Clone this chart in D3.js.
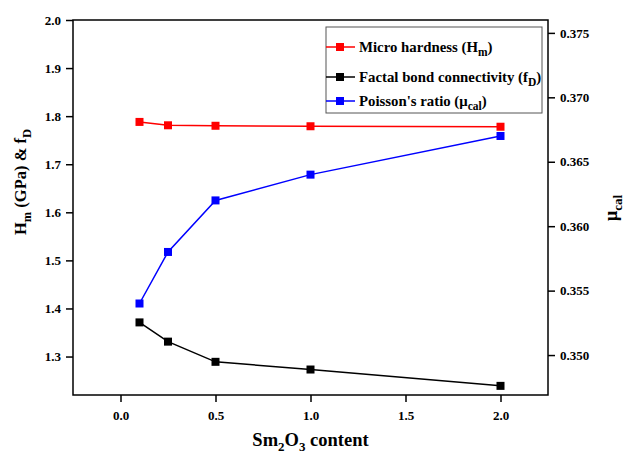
<!DOCTYPE html>
<html>
<head>
<meta charset="utf-8">
<script src="https://cdn.jsdelivr.net/npm/d3@7/dist/d3.min.js"></script>
<style>
  body { margin: 0; background: #fff; }
  svg text { font-family: 'Liberation Serif', 'Times New Roman', Times, serif; font-weight: bold; }
</style>
</head>
<body>
<div id="chart"></div>
<script>
// data
const content = [0.1, 0.25, 0.5, 1.0, 2.0];
const hardness = [1.788, 1.781, 1.780, 1.779, 1.778];
const fractal = [1.371, 1.331, 1.289, 1.273, 1.239];
const poisson = [0.354, 0.358, 0.362, 0.364, 0.367];

const xTicks = [0.0, 0.5, 1.0, 1.5, 2.0];
const leftTicks = [1.3, 1.4, 1.5, 1.6, 1.7, 1.8, 1.9, 2.0];
const rightTicks = [0.350, 0.355, 0.360, 0.365, 0.370, 0.375];

const width = 627;
const height = 455;
const m = { left: 73, right: 548, top: 20, bottom: 395 };

const svg = d3.select('#chart')
    .append('svg')
    .attr('width', width)
    .attr('height', height);

const x = d3.scaleLinear().domain([-0.25, 2.25]).range([m.left, m.right]);
const yL = d3.scaleLinear().domain([1.22, 2.0]).range([m.bottom, m.top]);
const yR = d3.scaleLinear().domain([0.3469, 0.376]).range([m.bottom, m.top]);

// axes
function styleAxis(g) {
    g.attr('font-family', null);
    g.selectAll('.domain').remove();
    g.selectAll('.tick line').attr('stroke', '#000').attr('stroke-width', 1.5);
    g.selectAll('.tick text')
        .attr('font-size', 13)
        .attr('fill', '#000');
}

svg.append('g')
    .attr('transform', `translate(0,${m.bottom})`)
    .call(d3.axisBottom(x).tickValues(xTicks).tickFormat(d3.format('.1f')).tickSize(7).tickPadding(9))
    .call(styleAxis);

svg.append('g')
    .attr('transform', `translate(${m.left},0)`)
    .call(d3.axisLeft(yL).tickValues(leftTicks).tickFormat(d3.format('.1f')).tickSize(7).tickPadding(5))
    .call(styleAxis);

svg.append('g')
    .attr('transform', `translate(${m.right},0)`)
    .call(d3.axisRight(yR).tickValues(rightTicks).tickFormat(d3.format('.3f')).tickSize(7).tickPadding(5))
    .call(styleAxis);

// frame
svg.append('rect')
    .attr('x', m.left).attr('y', m.top)
    .attr('width', m.right - m.left).attr('height', m.bottom - m.top)
    .attr('fill', 'none').attr('stroke', '#000').attr('stroke-width', 1.5);

// series
const series = [
    { name: 'hard', vals: hardness, y: yL, color: '#ff0000' },
    { name: 'fd', vals: fractal, y: yL, color: '#000000' },
    { name: 'mu', vals: poisson, y: yR, color: '#0000ff' }
];

series.forEach(s => {
    const pts = content.map((c, i) => [c, s.vals[i]]);
    svg.append('path')
        .datum(pts)
        .attr('fill', 'none')
        .attr('stroke', s.color)
        .attr('stroke-width', 1.5)
        .attr('d', d3.line().x(d => x(d[0])).y(d => s.y(d[1])));
    svg.selectAll('rect.m-' + s.name)
        .data(pts)
        .enter()
        .append('rect')
        .attr('class', 'm-' + s.name)
        .attr('x', d => x(d[0]) - 4)
        .attr('y', d => s.y(d[1]) - 4)
        .attr('width', 8).attr('height', 8)
        .attr('fill', s.color);
});

// legend
const legend = svg.append('g');
legend.append('rect')
    .attr('x', 326).attr('y', 27).attr('width', 216).attr('height', 86)
    .attr('fill', '#fff').attr('stroke', '#555').attr('stroke-width', 1);

const legendItems = [
    { color: '#ff0000', cy: 47, main: 'Micro hardness (H', sub: 'm', tail: ')' },
    { color: '#000000', cy: 77, main: 'Factal bond connectivity (f', sub: 'D', tail: ')' },
    { color: '#0000ff', cy: 101, main: 'Poisson\'s ratio (\u03bc', sub: 'cal', tail: ')' }
];

legendItems.forEach(d => {
    legend.append('line')
        .attr('x1', 326).attr('x2', 355)
        .attr('y1', d.cy).attr('y2', d.cy)
        .attr('stroke', d.color).attr('stroke-width', 1.5);
    legend.append('rect')
        .attr('x', 336).attr('y', d.cy - 4)
        .attr('width', 8).attr('height', 8)
        .attr('fill', d.color);
    const t = legend.append('text')
        .attr('x', 359).attr('y', d.cy + 5)
        .attr('font-size', 14.8);
    t.append('tspan').text(d.main);
    t.append('tspan').attr('dy', 4).attr('font-size', 11.5).text(d.sub);
    t.append('tspan').attr('dy', -4).text(d.tail);
});

// axis titles
const xt = svg.append('text')
    .attr('x', (m.left + m.right) / 2).attr('y', 446)
    .attr('text-anchor', 'middle')
    .attr('font-size', 18.5);
xt.append('tspan').text('Sm');
xt.append('tspan').attr('dy', 5).attr('font-size', 13).text('2');
xt.append('tspan').attr('dy', -5).text('O');
xt.append('tspan').attr('dy', 5).attr('font-size', 13).text('3');
xt.append('tspan').attr('dy', -5).text(' content');

const yt = svg.append('text')
    .attr('transform', 'translate(26,182) rotate(-90)')
    .attr('text-anchor', 'middle')
    .attr('font-size', 16.5);
yt.append('tspan').text('H');
yt.append('tspan').attr('dy', 5).attr('font-size', 12.5).text('m');
yt.append('tspan').attr('dy', -5).text(' (GPa) & f');
yt.append('tspan').attr('dy', 5).attr('font-size', 12.5).text('D');

const rt = svg.append('text')
    .attr('transform', 'translate(617,208) rotate(-90)')
    .attr('text-anchor', 'middle')
    .attr('font-size', 18);
rt.append('tspan').text('\u03bc');
rt.append('tspan').attr('dy', 5).attr('font-size', 13).text('cal');
</script>
</body>
</html>
